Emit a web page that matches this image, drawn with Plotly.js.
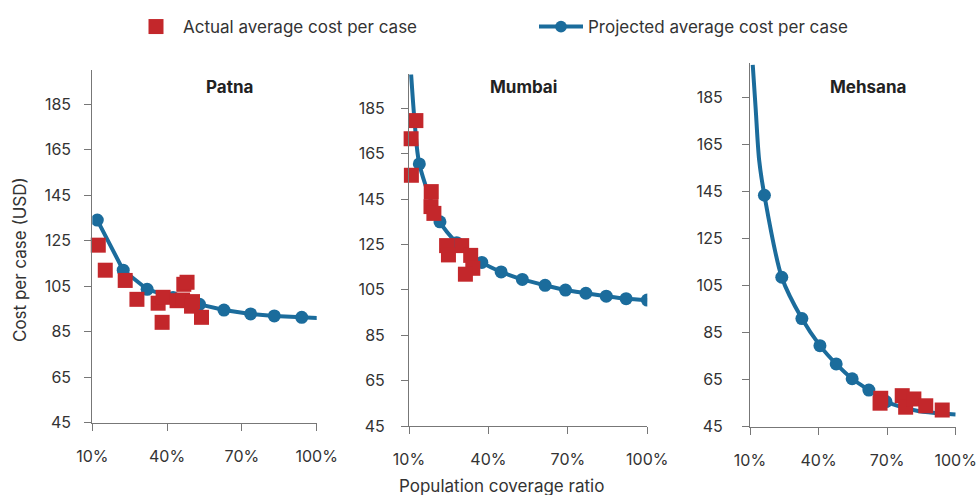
<!DOCTYPE html>
<html>
<head>
<meta charset="utf-8">
<script src="https://cdn.plot.ly/plotly-3.0.1.min.js"></script>
<style>html,body{margin:0;padding:0;background:#fff;}#chart{width:978px;height:495px;}</style>
</head>
<body>
<div id="chart"></div>
<script>
// ---------- data ----------
const cities = ['Patna', 'Mumbai', 'Mehsana'];
const xTickVals = [10, 40, 70, 100];
const xTickText = ['10%', '40%', '70%', '100%'];
const yTickVals = [45, 65, 85, 105, 125, 145, 165, 185];

// Projected average cost per case (points with a marker)
const patnaProjX = [12, 22.4, 32, 42.4, 53, 62.8, 73.5, 83, 94];
const patnaProjY = [134, 112, 103.6, 100, 97, 94.5, 92.8, 91.9, 91.3];
// further points on the projected curve (no marker)
const patnaCurveX = [100.5];
const patnaCurveY = [91];

const mumbaiProjX = [13.9, 21.7, 28, 37.5, 44.8, 52.8, 61.4, 69.1, 76.8, 84.5, 92, 100];
const mumbaiProjY = [160.5, 135, 125.8, 117.1, 112.9, 109.6, 107, 104.9, 103.5, 102.2, 101.1, 100.5];
const mumbaiCurveX = [10.8, 12.2];
const mumbaiCurveY = [200, 178];

const mehsanaProjX = [16.3, 23.9, 32.7, 40.6, 47.7, 54.7, 62, 69.5];
const mehsanaProjY = [143.5, 108.6, 91, 79.5, 71.7, 65.4, 60.6, 55.7];
const mehsanaCurveX = [11.2, 12.5, 14, 82, 91, 100];
const mehsanaCurveY = [199, 180, 158.5, 52, 50.8, 50.2];

// Actual average cost per case
const patnaActX = [12.4, 15.2, 23.2, 27.9, 36.4, 38.4, 38, 44, 46.2, 46.7, 48, 50.2, 49.8, 53.8];
const patnaActY = [123, 112, 107.5, 99.2, 97.5, 100.1, 89.1, 98.6, 98.9, 105.8, 106.7, 98.2, 96.2, 91.3];

const mumbaiActX = [12.6, 10.8, 10.9, 18.4, 18.3, 19.4, 24.2, 29.9, 24.9, 33.3, 34.1, 31.3];
const mumbaiActY = [179.6, 171.6, 155.5, 148.3, 141.7, 138.7, 124.5, 124.5, 120.4, 120.2, 114.5, 111.9];

const mehsanaActX = [67.2, 66.9, 76.6, 78.1, 81.7, 86.9, 94.1];
const mehsanaActY = [57.1, 55, 58.2, 53.3, 56.8, 53.9, 52.1];

// ---------- build ----------
const RED = '#C3272B';
const BLUE = '#1B6C9C';
const FONT = 'Inter, Roboto, "Liberation Sans", sans-serif';

const projData = [
  [patnaProjX, patnaProjY, patnaCurveX, patnaCurveY, 'linear'],
  [mumbaiProjX, mumbaiProjY, mumbaiCurveX, mumbaiCurveY, 'spline'],
  [mehsanaProjX, mehsanaProjY, mehsanaCurveX, mehsanaCurveY, 'spline']
];
const actData = [
  [patnaActX, patnaActY],
  [mumbaiActX, mumbaiActY],
  [mehsanaActX, mehsanaActY]
];

const traces = [];
projData.forEach((d, i) => {
  const pts = [];
  d[0].forEach((x, k) => pts.push({x: x, y: d[1][k], m: true}));
  d[2].forEach((x, k) => pts.push({x: x, y: d[3][k], m: false}));
  pts.sort((a, b) => a.x - b.x);
  const sfx = i === 0 ? '' : String(i + 1);
  traces.push({
    type: 'scatter', mode: 'lines+markers',
    x: pts.map(p => p.x), y: pts.map(p => p.y),
    xaxis: 'x' + sfx, yaxis: 'y' + sfx,
    name: 'Projected average cost per case',
    legendgroup: 'proj', legendrank: 2, showlegend: i === 0,
    line: {color: BLUE, width: 4, shape: d[4], smoothing: 0.8},
    marker: {color: BLUE, size: pts.map(p => p.m ? 13 : 0), opacity: 1, line: {width: 0}},
    cliponaxis: true, hoverinfo: 'skip'
  });
});
actData.forEach((d, i) => {
  const sfx = i === 0 ? '' : String(i + 1);
  traces.push({
    type: 'scatter', mode: 'markers',
    x: d[0], y: d[1],
    xaxis: 'x' + sfx, yaxis: 'y' + sfx,
    name: 'Actual average cost per case',
    legendgroup: 'act', legendrank: 1, showlegend: i === 0,
    marker: {color: RED, symbol: 'square', size: 15, opacity: 1, line: {width: 0}},
    cliponaxis: false, hoverinfo: 'skip'
  });
});

const W = 978, H = 495;
// pixel geometry of each panel: [x10, x100, yBottom(45), yTop(200), labelStandoff]
const geo = [
  [92.3, 316.7, 422.7, 69.9, 10],
  [409, 647.3, 426, 74.3, 13],
  [750, 955.7, 426.7, 62.5, 16]
];
const titleX = [229, 523, 868];

const layout = {
  width: W, height: H,
  margin: {l: 0, r: 0, t: 0, b: 0},
  paper_bgcolor: '#fff', plot_bgcolor: '#fff',
  font: {family: FONT, size: 16, color: '#333'},
  showlegend: true,
  legend: {
    orientation: 'h', x: 129 / W, xanchor: 'left', y: (H - 27) / H, yanchor: 'middle',
    font: {family: FONT, size: 17, color: '#333'},
    itemwidth: 44, entrywidth: 346, traceorder: 'normal', bgcolor: 'rgba(0,0,0,0)'
  },
  annotations: [],
  hovermode: false
};

geo.forEach((g, i) => {
  const sfx = i === 0 ? '' : String(i + 1);
  layout['xaxis' + sfx] = {
    domain: [g[0] / W, g[1] / W], anchor: 'y' + sfx,
    range: [10, 100], tickvals: xTickVals, ticktext: xTickText,
    showline: true, linecolor: '#777', linewidth: 1,
    ticks: 'outside', ticklen: 7, tickcolor: '#777', tickwidth: 1,
    ticklabelstandoff: 12,
    showgrid: false, zeroline: false,
    tickfont: {family: FONT, size: 16, color: '#333'}
  };
  layout['yaxis' + sfx] = {
    domain: [(H - g[2]) / H, (H - g[3]) / H], anchor: 'x' + sfx,
    range: [45, 200], tickvals: yTickVals,
    showline: true, linecolor: '#777', linewidth: 1,
    ticks: 'outside', ticklen: 7, tickcolor: '#777', tickwidth: 1,
    ticklabelstandoff: g[4],
    showgrid: false, zeroline: false,
    tickfont: {family: FONT, size: 16, color: '#333'}
  };
  layout.annotations.push({
    text: '<b>' + cities[i] + '</b>', xref: 'paper', yref: 'paper',
    x: titleX[i] / W, y: (H - 87) / H, xanchor: 'center', yanchor: 'middle',
    showarrow: false, font: {family: FONT, size: 17, color: '#222'}
  });
});

layout.annotations.push({
  text: 'Cost per case (USD)', xref: 'paper', yref: 'paper',
  x: 20 / W, y: (H - 260) / H, xanchor: 'center', yanchor: 'middle',
  textangle: -90, showarrow: false, font: {family: FONT, size: 17, color: '#333'}
});
layout.annotations.push({
  text: 'Population coverage ratio', xref: 'paper', yref: 'paper',
  x: 501 / W, y: (H - 486) / H, xanchor: 'center', yanchor: 'middle',
  showarrow: false, font: {family: FONT, size: 17, color: '#333'}
});

Plotly.newPlot('chart', traces, layout, {displayModeBar: false, staticPlot: true});
</script>
</body>
</html>
